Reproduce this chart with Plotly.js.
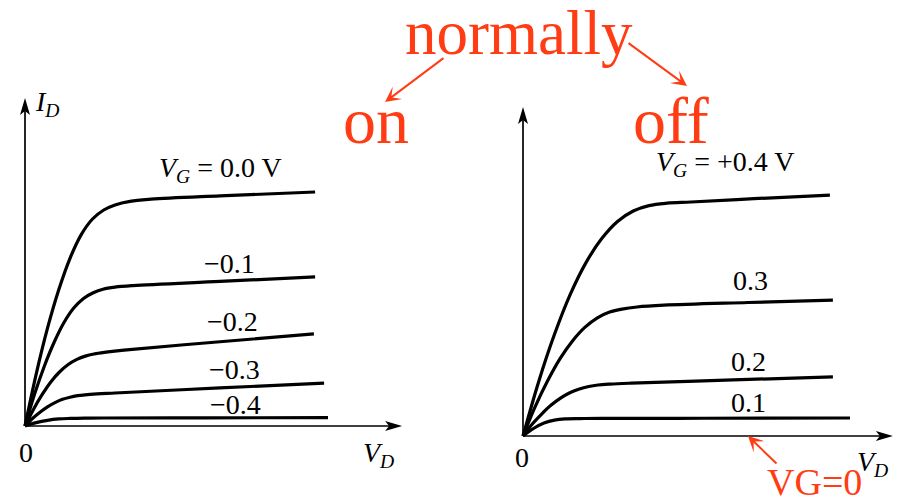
<!DOCTYPE html>
<html>
<head>
<meta charset="utf-8">
<script src="https://cdn.plot.ly/plotly-3.0.1.min.js"></script>
<style>
  html, body { margin: 0; padding: 0; background: #ffffff; }
  #chart { width: 898px; height: 499px; }
</style>
</head>
<body>
<div id="chart"></div>
<script>
// ---- Normally-on FET: I_D vs V_D for each gate voltage ----
const onGateLabels = ['<i>V</i><sub><i>G</i></sub> = 0.0 V', '−0.1', '−0.2', '−0.3', '−0.4'];
const onVD_00 = [0, 0.375, 0.75, 1.125, 1.5, 1.875, 2.25, 2.625, 3.0, 3.5, 4.2, 6.5, 9.67];
const onID_00 = [0, 1.74, 3.26, 4.54, 5.59, 6.38, 6.90, 7.20, 7.37, 7.49, 7.56, 7.67, 7.80];
const onVD_01 = [0, 0.325, 0.65, 0.975, 1.3, 1.625, 1.95, 2.275, 2.6, 3.0, 3.6, 6.5, 9.67];
const onID_01 = [0, 1.08, 2.01, 2.80, 3.45, 3.93, 4.25, 4.44, 4.56, 4.63, 4.68, 4.82, 4.97];
const onVD_02 = [0, 0.29, 0.58, 0.86, 1.15, 1.44, 1.73, 2.01, 2.3, 2.7, 3.3, 6.4, 9.63];
const onID_02 = [0, 0.57, 1.06, 1.47, 1.80, 2.05, 2.22, 2.33, 2.40, 2.46, 2.53, 2.80, 3.07];
const onVD_03 = [0, 0.25, 0.5, 0.75, 1.0, 1.25, 1.5, 1.75, 2.0, 2.4, 3.0, 6.5, 9.97];
const onID_03 = [0, 0.25, 0.46, 0.64, 0.78, 0.89, 0.96, 1.01, 1.04, 1.07, 1.10, 1.27, 1.43];
const onVD_04 = [0, 0.375, 0.75, 1.125, 1.5, 2.0, 2.6, 6.0, 10.1];
const onID_04 = [0, 0.114, 0.19, 0.235, 0.252, 0.262, 0.266, 0.272, 0.28];

// ---- Normally-off FET: I_D vs V_D for each gate voltage ----
const offGateLabels = ['<i>V</i><sub><i>G</i></sub> = +0.4 V', '0.3', '0.2', '0.1'];
const offVD_04 = [0, 0.525, 1.05, 1.575, 2.1, 2.625, 3.15, 3.675, 4.2, 4.8, 5.6, 7.7, 10.23];
const offID_04 = [0, 1.82, 3.39, 4.72, 5.78, 6.58, 7.15, 7.50, 7.68, 7.76, 7.80, 7.91, 8.03];
const offVD_03 = [0, 0.41, 0.83, 1.24, 1.65, 2.06, 2.48, 2.89, 3.3, 3.8, 4.7, 7.5, 10.33];
const offID_03 = [0, 0.99, 1.86, 2.59, 3.17, 3.62, 3.94, 4.13, 4.23, 4.30, 4.36, 4.45, 4.53];
const offVD_02 = [0, 0.31, 0.63, 0.94, 1.25, 1.56, 1.88, 2.19, 2.5, 2.9, 3.6, 7.0, 10.33];
const offID_02 = [0, 0.40, 0.74, 1.03, 1.26, 1.44, 1.57, 1.65, 1.70, 1.73, 1.76, 1.87, 1.97];
const offVD_01 = [0, 0.35, 0.7, 1.05, 1.4, 1.9, 2.6, 6.0, 10.9];
const offID_01 = [0, 0.25, 0.43, 0.53, 0.57, 0.582, 0.586, 0.592, 0.60];

// Axis captions and headings
const axisNames = { id: '<i>I</i><sub><i>D</i></sub>', vd: '<i>V</i><sub><i>D</i></sub>', zero: '0' };
const headings = { top: 'normally', left: 'on', right: 'off', zeroGate: 'VG=0' };

// ---- styling / placement ----
const SERIF = 'Liberation Serif, Times New Roman, serif';
const RED = '#ff3c14';
const W = 898, H = 499;
const px = (x) => x / W;          // pixel -> paper x
const py = (y) => 1 - y / H;      // pixel -> paper y

const curveLine = { color: '#000', width: 3.2, shape: 'spline', smoothing: 1 };

function curve(x, y, xa, ya) {
  return { type: 'scatter', mode: 'lines', x: x, y: y, xaxis: xa, yaxis: ya,
           line: curveLine, hoverinfo: 'skip' };
}

const traces = [
  curve(onVD_00, onID_00, 'x', 'y'),
  curve(onVD_01, onID_01, 'x', 'y'),
  curve(onVD_02, onID_02, 'x', 'y'),
  curve(onVD_03, onID_03, 'x', 'y'),
  curve(onVD_04, onID_04, 'x', 'y'),
  curve(offVD_04, offID_04, 'x2', 'y2'),
  curve(offVD_03, offID_03, 'x2', 'y2'),
  curve(offVD_02, offID_02, 'x2', 'y2'),
  curve(offVD_01, offID_01, 'x2', 'y2')
];

// label anchor points (axis units) for the gate-voltage labels
const onLabelPos  = [[4.4, 8.55, 'left'], [6.83, 5.43, 'center'], [6.9, 3.47, 'center'], [6.97, 1.87, 'center'], [7.0, 0.73, 'center']];
const offLabelPos = [[4.35, 9.1, 'left'], [7.57, 5.17, 'center'], [7.5, 2.47, 'center'], [7.5, 1.13, 'center']];

const labelFont = { family: SERIF, size: 28, color: '#000' };
const annotations = [];

onGateLabels.forEach((t, i) => {
  const p = onLabelPos[i];
  annotations.push({ xref: 'x', yref: 'y', x: p[0], y: p[1], text: t, showarrow: false,
                     xanchor: p[2], yanchor: 'middle', font: labelFont });
});
offGateLabels.forEach((t, i) => {
  const p = offLabelPos[i];
  annotations.push({ xref: 'x2', yref: 'y2', x: p[0], y: p[1], text: t, showarrow: false,
                     xanchor: p[2], yanchor: 'middle', font: labelFont });
});

// axis captions
annotations.push(
  { xref: 'x', yref: 'y', x: 0.25, y: 10.75, text: axisNames.id, showarrow: false, xanchor: 'left', yanchor: 'middle', font: labelFont },
  { xref: 'x', yref: 'y', x: 11.2, y: -0.95, text: axisNames.vd, showarrow: false, xanchor: 'left', yanchor: 'middle', font: labelFont },
  { xref: 'x', yref: 'y', x: 0.03, y: -0.87, text: axisNames.zero, showarrow: false, xanchor: 'center', yanchor: 'middle', font: labelFont },
  { xref: 'x2', yref: 'y2', x: 11.05, y: -0.9, text: axisNames.vd, showarrow: false, xanchor: 'left', yanchor: 'middle', font: labelFont },
  { xref: 'x2', yref: 'y2', x: -0.03, y: -0.72, text: axisNames.zero, showarrow: false, xanchor: 'center', yanchor: 'middle', font: labelFont }
);

// red headings and pointers
annotations.push(
  { xref: 'paper', yref: 'paper', x: px(519), y: py(33), text: headings.top, showarrow: false, xanchor: 'center', yanchor: 'middle', font: { family: SERIF, size: 63, color: RED } },
  { xref: 'paper', yref: 'paper', x: px(376), y: py(120), text: headings.left, showarrow: false, xanchor: 'center', yanchor: 'middle', font: { family: SERIF, size: 66, color: RED } },
  { xref: 'paper', yref: 'paper', x: px(671), y: py(120), text: headings.right, showarrow: false, xanchor: 'center', yanchor: 'middle', font: { family: SERIF, size: 66, color: RED } },
  { xref: 'paper', yref: 'paper', x: px(814), y: py(482), text: headings.zeroGate, showarrow: false, xanchor: 'center', yanchor: 'middle', font: { family: SERIF, size: 38, color: RED } },
  { xref: 'paper', yref: 'paper', x: px(385), y: py(102), ax: 60, ay: -45, text: '', showarrow: true, arrowhead: 3, arrowsize: 1.3, arrowwidth: 2, arrowcolor: RED },
  { xref: 'paper', yref: 'paper', x: px(687), y: py(86), ax: -60, ay: -44, text: '', showarrow: true, arrowhead: 3, arrowsize: 1.3, arrowwidth: 2, arrowcolor: RED },
  { xref: 'paper', yref: 'paper', x: px(748), y: py(436), ax: 30, ay: 29, text: '', showarrow: true, arrowhead: 3, arrowsize: 1.3, arrowwidth: 2, arrowcolor: RED }
);

// axes with arrowheads (axis units for the lines, pixel-sized heads)
const axisLine = { color: '#000', width: 1.7 };
const headUp = 'M0,0 L-5,-17 L0,-13 L5,-17 Z';
const headRight = 'M0,0 L-17,5 L-13,0 L-17,-5 Z';
function axisShapes(xr, yr, xTip, yTip) {
  return [
    { type: 'line', xref: xr, yref: yr, x0: 0, y0: 0, x1: 0, y1: yTip - 0.3, line: axisLine },
    { type: 'line', xref: xr, yref: yr, x0: 0, y0: 0, x1: xTip - 0.3, y1: 0, line: axisLine },
    { type: 'path', xref: xr, yref: yr, xsizemode: 'pixel', ysizemode: 'pixel', xanchor: 0, yanchor: yTip,
      path: headUp, fillcolor: '#000', line: { width: 0 } },
    { type: 'path', xref: xr, yref: yr, xsizemode: 'pixel', ysizemode: 'pixel', xanchor: xTip, yanchor: 0,
      path: headRight, fillcolor: '#000', line: { width: 0 } }
  ];
}
const shapes = [].concat(axisShapes('x', 'y', 12.57, 10.93), axisShapes('x2', 'y2', 12.33, 10.97));

const hidden = { visible: false, fixedrange: true };
const layout = {
  width: W, height: H,
  margin: { l: 0, r: 0, t: 0, b: 0 },
  paper_bgcolor: '#fff', plot_bgcolor: '#fff',
  showlegend: false,
  xaxis:  Object.assign({ domain: [0, 0.5], range: [-25 / 30, 424 / 30], anchor: 'y' }, hidden),
  yaxis:  Object.assign({ domain: [0, 1], range: [-73 / 30, 426 / 30], anchor: 'x' }, hidden),
  xaxis2: Object.assign({ domain: [0.5, 1], range: [-74 / 30, 375 / 30], anchor: 'y2' }, hidden),
  yaxis2: Object.assign({ domain: [0, 1], range: [-63 / 30, 436 / 30], anchor: 'x2' }, hidden),
  annotations: annotations,
  shapes: shapes
};

Plotly.newPlot('chart', traces, layout, { staticPlot: true, displayModeBar: false });
</script>
</body>
</html>
